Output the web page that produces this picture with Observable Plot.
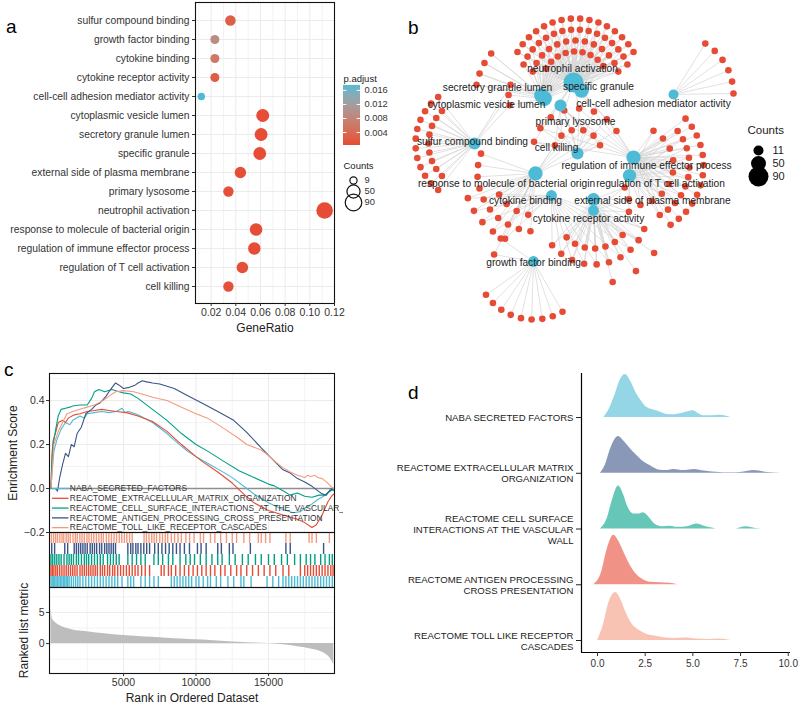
<!DOCTYPE html>
<html><head><meta charset="utf-8">
<script src="https://cdn.jsdelivr.net/npm/d3@7"></script>
<script src="https://cdn.jsdelivr.net/npm/@observablehq/plot@0.6"></script>
<style>
body{margin:0;background:#fff;}
#root{position:relative;width:800px;height:708px;overflow:hidden;background:#fff;font-family:"Liberation Sans",Arial,Helvetica,sans-serif;}
.pl{position:absolute;}
.pl svg{display:block;}
.letter{position:absolute;font-size:19px;line-height:19px;color:#000;font-family:"Liberation Sans",Arial,sans-serif;}
</style></head><body><div id="root"></div>
<script>
// ---------------- DATA ----------------
// Panel a: GO enrichment dot plot
const termsA = ["sulfur compound binding","growth factor binding","cytokine binding","cytokine receptor activity","cell-cell adhesion mediator activity","cytoplasmic vesicle lumen","secretory granule lumen","specific granule","external side of plasma membrane","primary lysosome","neutrophil activation","response to molecule of bacterial origin","regulation of immune effector process","regulation of T cell activation","cell killing"];
const geneRatioA = [0.0356,0.023,0.023,0.023,0.012,0.0618,0.0605,0.0594,0.0437,0.034,0.112,0.0564,0.055,0.0453,0.034];
const countA = [28,18,18,18,10,49,48,47,35,27,90,45,44,36,27];
const padjA = [0.0024,0.0090,0.0056,0.0022,0.0174,0.0004,0.0004,0.0004,0.0006,0.0008,0.0003,0.0005,0.0005,0.0007,0.0009];
const ticksA = [0.02,0.04,0.06,0.08,0.10,0.12];
const minorA = [0.01,0.03,0.05,0.07,0.09,0.11];
const padjTicks = [0.004,0.008,0.012,0.016];
const countLegendA = [9,50,90];

// Panel b: gene-concept network
const hubNames = ["neutrophil activation","specific granule","secretory granule lumen","cytoplasmic vesicle lumen","primary lysosome","cell-cell adhesion mediator activity","sulfur compound binding","cell killing","regulation of immune effector process","regulation of T cell activation","response to molecule of bacterial origin","cytokine binding","external side of plasma membrane","cytokine receptor activity","growth factor binding"];
const hubX = [173,181,141,144,160,273,74,177,233,229,135,151,193,193,133];
const hubY = [82,90,95,98,105,94,143,153,157,175,173,195,199,210,261];
const hubCount = [90,47,48,49,27,11,28,27,44,36,45,18,35,18,18];
const hubLabelX = [172,198,97,86,175,253,72,156,246,260,106,125,252,188,133];
const hubLabelY = [68,86,87,104,121,103,141,147,165,183,183,200,200,218,262];
// gene groups laid out on arcs: linked hubs, centre, radius, start/end angle (deg), number of genes
const arcHubs = [[0,1],[0,2],[0,3],[0,1,2],[3,2],[3,6],[6],[6],[5],[8],[8,9],[9,8],[13,12],[13,12,11],[13],[10],[10,11],[11,10],[14],[14,10],[7,4,10],[7,8,0],[9,12,13]];
const arcCx = [175,175,175,175,142,142,74,74,273,233,233,233,193,193,193,135,135,135,133,133,177,177,193];
const arcCy = [85,85,85,85,96,96,143,143,94,165,165,165,210,210,210,173,173,173,261,261,153,153,205];
const arcR  = [67,56,45,34,67,34,59,46,60,70,56,40,38,54,74,58,72,42,58,40,24,45,36];
const arcA0 = [-150,-158,-162,-150,-170,165,128,135,-58,-42,-38,-60,40,20,35,95,115,100,60,190,200,195,-30];
const arcA1 = [-30,-22,-18,-35,-140,200,232,225,-1,58,62,80,135,140,75,200,160,150,145,215,340,330,10];
const arcN  = [16,16,13,9,4,3,12,9,6,13,11,9,7,10,3,10,5,4,9,2,6,8,3];
const countLegendB = [11,50,90];

// Panel c: GSEA running enrichment scores (rank, ES)
const setNames = ["NABA_SECRETED_FACTORS","REACTOME_EXTRACELLULAR_MATRIX_ORGANIZATION","REACTOME_CELL_SURFACE_INTERACTIONS_AT_THE_VASCULAR_WALL","REACTOME_ANTIGEN_PROCESSING_CROSS_PRESENTATION","REACTOME_TOLL_LIKE_RECEPTOR_CASCADES"];
const setColors = ["#4DBBD5","#E64B35","#00A087","#3C5488","#F39B7F"];
const esNABA = [[0,0],[80,0.08],[200,0.17],[400,0.22],[700,0.27],[1000,0.30],[1300,0.29],[1500,0.31],[2000,0.33],[2300,0.32],[2500,0.34],[3000,0.345],[3500,0.35],[4000,0.345],[4500,0.35],[4900,0.365],[5100,0.345],[5300,0.35],[5600,0.345],[6000,0.335],[7000,0.30],[8000,0.25],[8500,0.22],[9400,0.17],[10000,0.145],[10800,0.115],[12000,0.07],[12600,0.045],[13500,0.0],[14000,-0.025],[15000,-0.065],[16000,-0.095],[16700,-0.11],[17200,-0.105],[17500,-0.09],[18000,-0.07],[18400,-0.05],[18800,-0.035],[19200,-0.015],[19500,0]];
const esECM = [[0,0],[60,0.15],[150,0.22],[300,0.25],[500,0.30],[800,0.31],[1000,0.30],[1200,0.32],[1600,0.335],[2000,0.34],[2500,0.35],[3000,0.355],[3500,0.36],[4000,0.355],[4500,0.35],[5200,0.345],[6000,0.33],[7000,0.305],[8000,0.26],[9000,0.2],[10000,0.145],[10500,0.12],[11500,0.075],[12500,0.025],[13200,-0.02],[14000,-0.065],[15000,-0.10],[16000,-0.12],[17000,-0.14],[17500,-0.155],[18000,-0.177],[18300,-0.165],[18700,-0.12],[19100,-0.06],[19350,-0.035],[19500,-0.025]];
const esCELL = [[0,0],[50,0.1],[150,0.2],[300,0.26],[500,0.33],[700,0.36],[1000,0.365],[1300,0.37],[1500,0.375],[2000,0.38],[2500,0.38],[2800,0.41],[3000,0.44],[3300,0.45],[3700,0.44],[4200,0.45],[4700,0.44],[5000,0.435],[5500,0.43],[6000,0.41],[7000,0.36],[8000,0.31],[9000,0.25],[10000,0.2],[10800,0.17],[12000,0.12],[13000,0.08],[14000,0.05],[15000,0.02],[15400,0.012],[16000,-0.01],[16500,-0.03],[17000,-0.02],[17500,-0.035],[18000,-0.04],[18500,-0.03],[19000,-0.03],[19300,0.0],[19500,-0.01]];
const esANTI = [[0,0],[300,0],[450,-0.012],[600,0.05],[800,0.11],[1000,0.16],[1200,0.145],[1400,0.2],[1600,0.19],[1800,0.25],[2100,0.28],[2400,0.34],[2800,0.36],[3100,0.38],[3400,0.39],[3800,0.42],[4100,0.45],[4450,0.48],[4700,0.47],[5000,0.455],[5400,0.46],[5800,0.47],[6000,0.48],[6300,0.49],[6600,0.485],[7000,0.48],[7500,0.475],[8000,0.465],[8500,0.455],[9500,0.42],[10500,0.385],[11500,0.35],[12600,0.31],[13500,0.255],[14500,0.185],[15400,0.125],[16000,0.085],[16500,0.07],[17000,0.045],[17500,0.03],[18000,0.01],[18600,-0.02],[18900,-0.03],[19200,-0.012],[19500,0]];
const esTOLL = [[0,0],[100,0.1],[200,0.2],[500,0.26],[800,0.3],[1100,0.34],[1500,0.35],[2000,0.36],[2500,0.37],[3000,0.38],[3600,0.40],[4000,0.42],[4450,0.44],[5000,0.445],[5700,0.44],[6500,0.425],[7000,0.415],[8000,0.40],[9000,0.37],[10000,0.34],[10800,0.32],[12000,0.27],[13000,0.225],[13500,0.2],[14500,0.175],[15000,0.15],[15500,0.12],[16000,0.095],[16500,0.075],[17000,0.06],[17500,0.05],[17700,0.06],[17900,0.055],[18200,0.06],[18400,0.05],[18700,0.045],[19000,0.03],[19300,0.01],[19500,0]];
// hit positions (ranks) of each gene set
const hitsNABA = [0,80,170,260,350,450,550,650,750,850,950,1050,1150,1250,1400,1550,1700,1850,2000,2200,2400,2600,2800,3000,3200,3400,3600,3800,4000,4200,4400,4600,4900,5300,5500,5700,6200,6500,6800,7100,7400,8300,8500,8700,8900,9100,9300,9500,9700,10000,10200,10500,10800,11000,11400,11700,12200,12600,13100,13300,13800,14900,15300,15700,16000,16200,16400,16600,16800,17000,17200,17400,17600,17800,18000,18200,18400,18600,18800,19000,19200,19400];
const hitsECM = [0,100,200,330,450,600,750,900,1050,1200,1350,1500,1650,1800,2000,2150,2300,2450,2600,2750,2900,3050,3200,3400,3550,3700,3900,4050,4250,4400,4600,4800,5000,5200,5400,5600,5800,6000,6250,6500,6800,7600,7800,8100,8300,8600,8900,9200,9500,9800,10100,10400,10700,11000,11300,11700,12000,12400,12800,13100,13500,13900,14300,14700,15100,15500,16000,16400,17200,17500,17700,17900,18100,18300,18500,18700,18900,19100,19300,19450];
const hitsCELL = [0,120,260,400,550,700,900,1100,1250,1400,1550,1750,1900,2100,2300,2450,2600,2800,3000,3200,3400,3600,3900,4100,4300,4500,4700,5300,5600,5900,6200,6500,7100,7400,7700,8100,8400,8900,9300,9600,9900,10300,10700,11100,11500,11800,12300,12700,13200,13600,14100,14500,15000,15400,15900,16300,16800,17200,17600,17900,18200,18600,18900,19200,19400];
const hitsANTI = [50,250,950,1150,1600,1750,1900,2050,2200,2350,2500,2700,2850,3000,3150,3350,3500,3700,3850,4000,4150,4300,4450,5300,5500,5650,5850,6000,6200,6400,6600,6800,7150,7400,7650,7900,8150,8400,8650,8900,9200,9550,10100,10350,10700,11500,11750,12300,12550,13750,16200,16500,18800];
const hitsTOLL = [30,180,320,450,610,760,880,1050,1190,1330,1520,1680,1810,1990,2140,2300,2480,2620,2790,2950,3130,3300,3470,3610,3820,3990,4170,4350,4520,4710,4880,5060,5230,5420,5600,6420,6580,6760,6950,7110,7280,7500,7690,7880,8050,8300,8520,8760,8990,9300,9560,9870,10300,10520,11000,11300,11700,12100,12500,12800,13300,13700,14300,14500,14800,15100,16200,16500,17800,18000,18300,19200];
// ranked list metric
const rankX = [0,30,100,300,600,1000,1500,2000,3000,4000,5000,6000,7000,8000,9000,10000,11000,12000,13000,14000,15000,16000,17000,18000,18500,19000,19300,19500];
const rankMetric = [6.0,5.0,4.0,3.4,2.9,2.5,2.2,2.0,1.75,1.5,1.3,1.15,1.0,0.85,0.72,0.6,0.48,0.35,0.22,0.1,0.0,-0.2,-0.5,-0.9,-1.2,-1.8,-2.5,-3.4];
const rankTicks = [5000,10000,15000];

// Panel d: ridgeline densities (bottom to top order index 0..4)
const dLabels = ["REACTOME TOLL LIKE RECEPTOR\nCASCADES","REACTOME ANTIGEN PROCESSING\nCROSS PRESENTATION","REACTOME CELL SURFACE\nINTERACTIONS AT THE VASCULAR\nWALL","REACTOME EXTRACELLULAR MATRIX\nORGANIZATION","NABA SECRETED FACTORS"];
const dColors = ["#F39B7F","#E64B35","#00A087","#3C5488","#4DBBD5"];
const ridgeX_TOLL = [0,0.3,0.6,0.95,1.2,1.5,1.8,2.2,2.6,3.0,3.5,4.0,4.6,5.2,5.8,6.4,7.0];
const ridgeD_TOLL = [0,0.27,0.68,0.86,0.75,0.5,0.3,0.18,0.11,0.08,0.05,0.036,0.045,0.027,0.018,0.027,0];
const ridgeX_ANTI = [-0.2,0.2,0.5,0.85,1.1,1.4,1.7,2.0,2.4,2.8,3.3,3.8,4.2];
const ridgeD_ANTI = [0,0.21,0.63,0.89,0.79,0.57,0.36,0.2,0.09,0.045,0.036,0.027,0];
const ridgeX_CELL = [0.15,0.5,0.8,1.1,1.35,1.6,1.9,2.2,2.4,2.7,3.0,3.4,3.8,4.2,4.7,5.2,5.6,6.0,6.3,6.7,7.2,7.8,8.3,8.6];
const ridgeD_CELL = [0,0.18,0.54,0.77,0.63,0.39,0.27,0.27,0.29,0.21,0.09,0.04,0.05,0.03,0.04,0.09,0.05,0.02,0,0,0,0.04,0.01,0];
const ridgeX_ECM = [0.15,0.4,0.7,1.1,1.4,1.7,2.0,2.4,2.8,3.2,3.6,4.0,4.5,5.1,5.6,6.2,7.0,7.6,8.2,8.8,9.4,9.8];
const ridgeD_ECM = [0,0.14,0.45,0.66,0.57,0.45,0.34,0.21,0.13,0.06,0.05,0.07,0.05,0.07,0.04,0.02,0.01,0.02,0.05,0.02,0.005,0];
const ridgeX_NABA = [0.33,0.6,0.9,1.2,1.47,1.75,2.0,2.25,2.6,3.1,3.5,3.8,4.2,4.6,5.0,5.3,5.6,6.0,6.4,6.8,7.0];
const ridgeD_NABA = [0,0.14,0.39,0.68,0.77,0.64,0.46,0.32,0.18,0.12,0.07,0.05,0.06,0.09,0.12,0.07,0.03,0.03,0.04,0.02,0];
const dTicks = [0,2.5,5,7.5,10];

// ---------------- LAYOUT HELPERS ----------------
const F = '"Liberation Sans", Arial, Helvetica, sans-serif';
const root = document.getElementById("root");
function place(node, left, top, w, h, overflow) {
  const d = document.createElement("div");
  d.className = "pl";
  Object.assign(d.style, {left: left + "px", top: top + "px", width: w + "px", height: h + "px"});
  node.style.overflow = overflow || "visible";
  d.append(node); root.append(d); return d;
}
function letter(t, left, top) {
  const d = document.createElement("div"); d.className = "letter"; d.textContent = t;
  d.style.left = left + "px"; d.style.top = top + "px"; root.append(d);
}
const st = (fs) => ({fontFamily: F, fontSize: fs + "px", color: "#222", background: "transparent"});
const GRID = "#ebebeb";

// ---------------- PANEL A ----------------
const dotsA = termsA.map((t, i) => ({term: t, ratio: geneRatioA[i], count: countA[i], padj: padjA[i]}));
const colorA = {type: "linear", domain: [0.0003, 0.0174], range: ["#E64B35", "#4DBBD5"], interpolate: d3.interpolateLab};
const sizeA = {type: "sqrt", domain: [9, 90], range: [3.6, 8.3]};
const pa = Plot.plot({
  width: 340, height: 340, marginLeft: 195, marginRight: 6, marginTop: 2, marginBottom: 37,
  style: st(10),
  x: {domain: [0.0073, 0.12]},
  y: {type: "point", domain: termsA, padding: 0.62},
  r: sizeA, color: colorA,
  marks: [
    Plot.gridX(minorA, {stroke: GRID, strokeOpacity: 1, strokeWidth: 0.6}),
    Plot.gridX(ticksA, {stroke: GRID, strokeOpacity: 1, strokeWidth: 1}),
    Plot.gridY({stroke: GRID, strokeOpacity: 1, strokeWidth: 1}),
    Plot.dot(dotsA, {x: "ratio", y: "term", r: "count", fill: "padj"}),
    Plot.frame({stroke: "#111", strokeWidth: 1.1}),
    Plot.axisX(ticksA, {tickFormat: d3.format(".2f"), tickSize: 3, tickPadding: 2, fontSize: 10.5, label: null, color: "#333"}),
    Plot.axisY({tickSize: 3, tickPadding: 3, fontSize: 10.3, label: null, color: "#333"}),
    Plot.text(["GeneRatio"], {frameAnchor: "bottom", dy: 28, fontSize: 12, fill: "#222"})
  ]
});
place(pa, 0, 0, 340, 340);

// colour legend
const gradSteps = d3.range(0, 60).map(i => 0.0003 + (0.0174 - 0.0003) * i / 60);
const gStep = (0.0174 - 0.0003) / 60;
const paLegC = Plot.plot({
  width: 80, height: 85, marginLeft: 13, marginRight: 50, marginTop: 20, marginBottom: 5,
  style: st(9.5),
  x: {domain: [0, 1], axis: null}, y: {domain: [0.0003, 0.0174], axis: null}, color: colorA,
  marks: [
    Plot.rect(gradSteps, {x1: 0, x2: 1, y1: d => d, y2: d => d + gStep * 1.05, fill: d => d}),
    Plot.ruleY(padjTicks, {x1: 0, x2: 0.2, stroke: "white", strokeWidth: 1}),
    Plot.ruleY(padjTicks, {x1: 0.8, x2: 1, stroke: "white", strokeWidth: 1}),
    Plot.text(padjTicks, {x: 1, y: d => d, dx: 4, textAnchor: "start", text: d => d3.format(".3f")(d), fontSize: 9.3, fill: "#333"}),
    Plot.text(["p.adjust"], {frameAnchor: "top-left", dy: -10, textAnchor: "start", fontSize: 9.5, fill: "#222"})
  ]
});
place(paLegC, 330, 65, 80, 85);

// size legend
const paLegS = Plot.plot({
  width: 75, height: 60, marginLeft: 23, marginRight: 42, marginTop: 19, marginBottom: 8,
  style: st(9.5),
  x: {domain: [0, 1], axis: null}, y: {type: "point", domain: countLegendA, axis: null}, r: sizeA,
  marks: [
    Plot.dot(countLegendA, {x: 0, y: d => d, r: d => d, stroke: "#111", strokeWidth: 1.2, fill: "none"}),
    Plot.text(countLegendA, {x: 0, y: d => d, dx: 11, text: d => String(d), textAnchor: "start", fontSize: 9.3, fill: "#333"}),
    Plot.text(["Counts"], {frameAnchor: "top-left", dx: -10, dy: -12, textAnchor: "start", fontSize: 9.5, fill: "#222"})
  ]
});
place(paLegS, 330, 155, 75, 60);

// ---------------- PANEL B ----------------
const hubs = hubNames.map((n, i) => ({name: n, x: hubX[i], y: hubY[i], count: hubCount[i], lx: hubLabelX[i], ly: hubLabelY[i]}));
const genes = [], edges = [];
arcN.forEach((n, k) => {
  for (let i = 0; i < n; i++) {
    const a = (arcA0[k] + (arcA1[k] - arcA0[k]) * (n === 1 ? 0.5 : i / (n - 1))) * Math.PI / 180;
    const g = {x: arcCx[k] + arcR[k] * Math.cos(a), y: arcCy[k] + arcR[k] * Math.sin(a)};
    genes.push(g);
    arcHubs[k].forEach(h => edges.push({x1: g.x, y1: g.y, x2: hubX[h], y2: hubY[h]}));
  }
});
const hubsSorted = hubs.slice().sort((a, b) => b.count - a.count);
const pb = Plot.plot({
  width: 400, height: 330, margin: 0,
  style: st(10),
  x: {domain: [0, 400], range: [0, 400], axis: null},
  y: {domain: [0, 330], range: [0, 330], axis: null},
  r: {type: "linear", domain: [11, 90], range: [5, 10]},
  marks: [
    Plot.link(edges, {x1: "x1", y1: "y1", x2: "x2", y2: "y2", stroke: "#d4d4d4", strokeWidth: 0.7}),
    Plot.dot(genes, {x: "x", y: "y", r: 3.3, fill: "#E64B35"}),
    Plot.dot(hubsSorted, {x: "x", y: "y", r: "count", fill: "#4DBBD5"}),
    Plot.text(hubs, {x: "lx", y: "ly", text: "name", fontSize: 10.2, fill: "#222"})
  ]
});
place(pb, 400, 0, 400, 330);

const pbLeg = Plot.plot({
  width: 55, height: 80, marginLeft: 13, marginRight: 42, marginTop: 28, marginBottom: 13,
  style: st(11),
  x: {domain: [0, 1], axis: null}, y: {type: "point", domain: countLegendB, axis: null},
  r: {type: "linear", domain: [11, 90], range: [5, 10]},
  marks: [
    Plot.dot(countLegendB, {x: 0, y: d => d, r: d => d, fill: "#000"}),
    Plot.text(countLegendB, {x: 0, y: d => d, dx: 14, textAnchor: "start", text: d => String(d), fontSize: 11, fill: "#222"}),
    Plot.text(["Counts"], {frameAnchor: "top-left", dx: -11, dy: -18, textAnchor: "start", fontSize: 11.5, fill: "#222"})
  ]
});
place(pbLeg, 745, 115, 55, 80);

// ---------------- PANEL C ----------------
const esAll = [esNABA, esECM, esCELL, esANTI, esTOLL];
const esRows = esAll.flatMap((arr, s) => arr.map(([r, e]) => ({set: setNames[s], rank: r, es: e})));
const xDomC = [-103, 19552];
const colorC = {domain: setNames, range: setColors};
const legIdx = [0, 1, 2, 3, 4];
const pc1 = Plot.plot({
  width: 343, height: 180, marginLeft: 49, marginRight: 9, marginTop: 8, marginBottom: 13,
  style: st(10),
  x: {domain: xDomC, axis: null}, y: {domain: [-0.2, 0.523]}, color: colorC,
  marks: [
    Plot.gridX([2500, 7500, 12500, 17500], {stroke: GRID, strokeOpacity: 1, strokeWidth: 0.6}),
    Plot.gridX(rankTicks, {stroke: GRID, strokeOpacity: 1}),
    Plot.gridY([-0.1, 0.1, 0.3, 0.5], {stroke: GRID, strokeOpacity: 1, strokeWidth: 0.6}),
    Plot.gridY([-0.2, 0, 0.2, 0.4], {stroke: GRID, strokeOpacity: 1}),
    Plot.ruleY([0], {stroke: "#8f8f8f", strokeWidth: 1.3}),
    Plot.line(esRows, {x: "rank", y: "es", z: "set", stroke: "set", strokeWidth: 1.1}),
    Plot.ruleY(legIdx, {y: i => -i * 0.0445, x1: 100, x2: 1240, stroke: i => setNames[i], strokeWidth: 1.3}),
    Plot.text(legIdx, {y: i => -i * 0.0445, x: 1300, text: i => setNames[i], textAnchor: "start", fontSize: 8.4, fill: "#333"}),
    Plot.frame({stroke: "#111", strokeWidth: 1.1}),
    Plot.axisY([-0.2, 0, 0.2, 0.4], {tickFormat: d3.format(".1f"), tickSize: 3, tickPadding: 2, fontSize: 10.5, label: null, color: "#333"}),
    Plot.text(["Enrichment Score"], {frameAnchor: "left", dx: -36, rotate: -90, textAnchor: "middle", fontSize: 12, fill: "#222"})
  ]
});
place(pc1, 0, 365, 343, 180, "hidden");

const hitsAll = [hitsNABA, hitsECM, hitsCELL, hitsANTI, hitsTOLL];
const hitRows = hitsAll.flatMap((arr, s) => arr.map(r => ({set: setNames[s], rank: r})));
const pc2 = Plot.plot({
  width: 343, height: 56, marginLeft: 49, marginRight: 9, marginTop: 1, marginBottom: 0,
  style: st(10),
  x: {domain: xDomC, axis: null}, y: {domain: setNames.slice().reverse(), padding: 0, axis: null}, color: colorC,
  marks: [
    Plot.tickX(hitRows, {x: "rank", y: "set", stroke: "set", strokeWidth: 1.4}),
    Plot.frame({stroke: "#111", strokeWidth: 1.1})
  ]
});
place(pc2, 0, 531, 343, 56);

const metricRows = rankX.map((r, i) => ({rank: r, v: rankMetric[i]}));
const pc3 = Plot.plot({
  width: 343, height: 121, marginLeft: 49, marginRight: 9, marginTop: 0, marginBottom: 35,
  style: st(10),
  x: {domain: xDomC}, y: {domain: [-4.8, 9.0]},
  marks: [
    Plot.gridX([2500, 7500, 12500, 17500], {stroke: GRID, strokeOpacity: 1, strokeWidth: 0.6}),
    Plot.gridX(rankTicks, {stroke: GRID, strokeOpacity: 1}),
    Plot.gridY([-2.5, 2.5, 7.5], {stroke: GRID, strokeOpacity: 1, strokeWidth: 0.6}),
    Plot.gridY([0, 5], {stroke: GRID, strokeOpacity: 1}),
    Plot.areaY(metricRows, {x: "rank", y: "v", fill: "#bdbdbd", curve: "monotone-x"}),
    Plot.frame({stroke: "#111", strokeWidth: 1.1}),
    Plot.axisY([0, 5], {tickSize: 3, tickPadding: 2, fontSize: 10.5, label: null, color: "#333"}),
    Plot.axisX(rankTicks, {tickSize: 3, tickPadding: 2, fontSize: 10.5, label: null, color: "#333", tickFormat: d => String(d)}),
    Plot.text(["Rank in Ordered Dataset"], {frameAnchor: "bottom", dy: 28, fontSize: 12, fill: "#222"}),
    Plot.text(["Ranked list metric"], {frameAnchor: "left", dx: -25, rotate: -90, textAnchor: "middle", fontSize: 12, fill: "#222"})
  ]
});
place(pc3, 0, 587, 343, 121);

// ---------------- PANEL D ----------------
const ridgeXs = [ridgeX_TOLL, ridgeX_ANTI, ridgeX_CELL, ridgeX_ECM, ridgeX_NABA];
const ridgeDs = [ridgeD_TOLL, ridgeD_ANTI, ridgeD_CELL, ridgeD_ECM, ridgeD_NABA];
const ridgeMarks = [4, 3, 2, 1, 0].map(k => Plot.areaY(ridgeXs[k].map((x, i) => ({x, d: ridgeDs[k][i]})),
  {x: "x", y1: () => k, y2: p => k + p.d, fill: dColors[k], fillOpacity: 0.6, curve: "monotone-x"}));
const pd = Plot.plot({
  width: 400, height: 348, marginLeft: 181, marginRight: 10, marginTop: 13, marginBottom: 56,
  style: st(10),
  x: {domain: [-0.84, 10.12]}, y: {domain: [-0.215, 4.79]},
  marks: [
    ...ridgeMarks,
    Plot.ruleX([-0.84], {stroke: "#000", strokeWidth: 1.2}),
    Plot.ruleY([-0.215], {stroke: "#000", strokeWidth: 1.2}),
    Plot.axisX(dTicks, {tickFormat: d3.format(".1f"), tickSize: 4, tickPadding: 3, fontSize: 10, label: null, color: "#333"}),
    Plot.axisY([0, 1, 2, 3, 4], {tickFormat: i => dLabels[i], tickSize: 5, tickPadding: 3, fontSize: 9.6, lineHeight: 1.15, label: null, color: "#222"})
  ]
});
place(pd, 400, 360, 400, 348);

letter("a", 6, 17);
letter("b", 408, 18);
letter("c", 4, 360);
letter("d", 408, 383);
</script></body></html>
